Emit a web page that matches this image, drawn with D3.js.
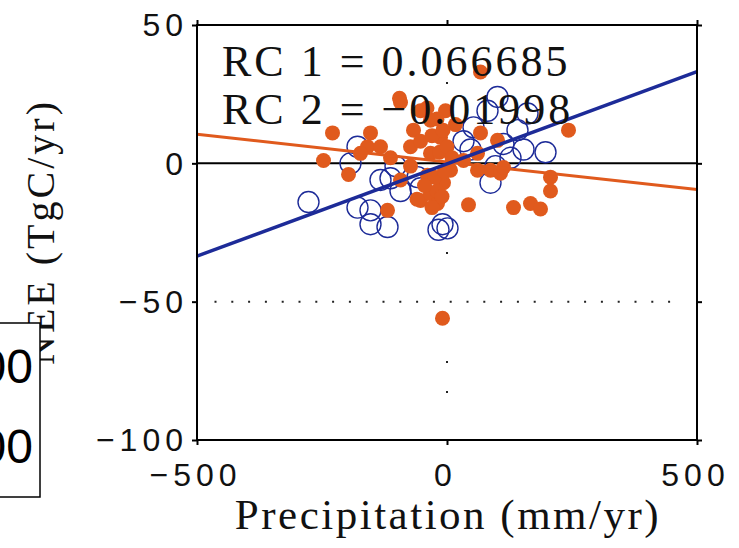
<!DOCTYPE html>
<html>
<head>
<meta charset="utf-8">
<script src="https://cdn.jsdelivr.net/npm/d3@7"></script>
<style>
  html, body { margin: 0; padding: 0; background: #fff; }
  svg { display: block; }
</style>
</head>
<body>
<svg id="chart" width="739" height="548"></svg>
<script>
// Precipitation anomaly (mm/yr) vs NEE anomaly (TgC/yr), two series with linear fits
const series1Precip = [-277, -179, 197, 101, 81, 53, 141, 113, 161, -179, -153, -153, -119, -133, -113,
                       -9, -17, 1, 87, -59, -53, 33, 127, 153, -93, -103, 47, -193, 97];
const series1NEE    = [-14, 6, 4, 24, 19, 13, 12, 7, 18, -16, -17, -22, -23, -6, -5.4,
                       -22, -24, -23.5, -7, -5, -9, 8, 2, 5, -10, -1, 5, 0, -1];

const series2Precip = [67, -229, -247, -197, -119, -9, 43, 133, 167, 187, 207, 207, 243, -95, -153,
                       -159, -173, -133, -113, -93, -73, -67, -53, -33, -53, -13, -33, -53, -33, -7,
                       7, -19, 87, 61, 107, 67, 101, 61, -3, 17, 33, 113, -73, -93, -39,
                       -20, -10, -25, -5, -15, -30, -20, -40, -8, 0, 10, -45, -60, -30];
const series2NEE    = [33, 11, 1, -4, -17, -56, -15, -16, -14.5, -16.5, -5, -10, 12, 23.5, 11,
                       6, 3.6, 6, 2, 22, 6, 12, 19, 15.6, 8, 9.4, 3.6, -13.4, -11, -7,
                       -2.5, -14.5, -2.5, -2.5, -3.6, 11, 8.3, 3.6, 19, 14, 1, -1.5, -1, -6, -4.3,
                       -10, -12, -5, -3, 4, 10, 16, 20, 12, 6, 2, -8, -13, -16];

// Regression coefficients (slopes) and intercepts of the fitted lines
const rcLabels = ["RC 1 = 0.066685", "RC 2 = \u22120.01998"];
const slopes = [0.066685, -0.01998];
const intercepts = [-0.2, 0.5];

const xTicks = [-500, 0, 500];
const yTicks = [50, 0, -50, -100];
const boxLabels = ["00", "00"];

const blue = "#1d2b98";
const orange = "#e05a1d";

const svg = d3.select("#chart");
const x = d3.scaleLinear().domain([-500, 500]).range([197, 697]);
const y = d3.scaleLinear().domain([-100, 50]).range([440, 25]);

// dotted reference lines at NEE = -50 and precipitation = 0
svg.append("line")
  .attr("x1", x(-465)).attr("x2", x(470))
  .attr("y1", y(-50)).attr("y2", y(-50))
  .attr("stroke", "#222").attr("stroke-width", 2)
  .attr("stroke-dasharray", "2,14.8");
svg.append("line")
  .attr("x1", x(0)).attr("x2", x(0))
  .attr("y1", y(50)).attr("y2", y(-100))
  .attr("stroke", "#222").attr("stroke-width", 2)
  .attr("stroke-dasharray", "0,57,2,168,2,107,2,28,2,200");

// zero line
svg.append("line")
  .attr("x1", x(-500)).attr("x2", x(500))
  .attr("y1", y(0)).attr("y2", y(0))
  .attr("stroke", "#000").attr("stroke-width", 2);

// series 1: open circles
svg.append("g").selectAll("circle")
  .data(d3.zip(series1Precip, series1NEE))
  .join("circle")
  .attr("cx", d => x(d[0])).attr("cy", d => y(d[1]))
  .attr("r", 10.5)
  .attr("fill", "none").attr("stroke", blue).attr("stroke-width", 1.4);

// series 2: filled dots
svg.append("g").selectAll("circle")
  .data(d3.zip(series2Precip, series2NEE))
  .join("circle")
  .attr("cx", d => x(d[0])).attr("cy", d => y(d[1]))
  .attr("r", 7.5)
  .attr("fill", orange);

// fitted lines
const fitColors = [blue, orange];
const fitWidths = [3.4, 3];
[1, 0].forEach(i => {
  const line = d3.line().x(d => x(d)).y(d => y(slopes[i] * d + intercepts[i]));
  svg.append("path")
    .attr("d", line(x.domain()))
    .attr("fill", "none")
    .attr("stroke", fitColors[i])
    .attr("stroke-width", fitWidths[i]);
});

// frame and axes
svg.append("rect")
  .attr("x", x(-500)).attr("y", y(50))
  .attr("width", x(500) - x(-500)).attr("height", y(-100) - y(50))
  .attr("fill", "none").attr("stroke", "#000").attr("stroke-width", 2);

const tickFont = "'Liberation Sans', Arial, sans-serif";

const axL = svg.append("g").attr("transform", `translate(${x(-500)},0)`)
  .call(d3.axisLeft(y).tickValues(yTicks).tickSize(5).tickSizeOuter(0).tickPadding(2));
axL.select(".domain").remove();
axL.selectAll("line").attr("stroke-width", 2);
axL.selectAll("text")
  .attr("font-family", tickFont).attr("font-size", 32)
  .style("letter-spacing", "5px")
  .attr("dx", -2).attr("dy", "0.34em").attr("fill", "#111");

const axB = svg.append("g").attr("transform", `translate(0,${y(-100)})`)
  .call(d3.axisBottom(x).tickValues(xTicks).tickSize(5).tickSizeOuter(0).tickPadding(18));
axB.select(".domain").remove();
axB.selectAll("line").attr("stroke-width", 2);
axB.selectAll("text")
  .attr("font-family", tickFont).attr("font-size", 32)
  .style("letter-spacing", "5px")
  .attr("dx", -2).attr("fill", "#111");

const axR = svg.append("g").attr("transform", `translate(${x(500)},0)`)
  .call(d3.axisRight(y).tickValues(yTicks).tickSize(5).tickSizeOuter(0).tickFormat(""));
axR.select(".domain").remove();
axR.selectAll("line").attr("stroke-width", 2);

const axT = svg.append("g").attr("transform", `translate(0,${y(50)})`)
  .call(d3.axisTop(x).tickValues(xTicks).tickSize(5).tickSizeOuter(0).tickFormat(""));
axT.select(".domain").remove();
axT.selectAll("line").attr("stroke-width", 2);

// coefficient annotations
const serif = "'Liberation Serif', 'Times New Roman', serif";
svg.append("g").selectAll("text")
  .data(rcLabels)
  .join("text")
  .attr("x", 222)
  .attr("y", (d, i) => 76 + i * 48)
  .attr("font-family", serif).attr("font-size", 44)
  .style("letter-spacing", "3px")
  .attr("fill", "#111")
  .text(d => d);

// axis titles
svg.append("text")
  .attr("x", 448).attr("y", 529)
  .attr("text-anchor", "middle")
  .attr("font-family", serif).attr("font-size", 43)
  .style("letter-spacing", "2.5px")
  .attr("fill", "#111")
  .text("Precipitation (mm/yr)");

svg.append("text")
  .attr("transform", "translate(54,232) rotate(-90)")
  .attr("text-anchor", "middle")
  .attr("font-family", serif).attr("font-size", 40)
  .style("letter-spacing", "3px")
  .attr("fill", "#111")
  .text("NEE (TgC/yr)");

// inset box at lower left
const box = svg.append("g");
box.append("rect")
  .attr("x", -2).attr("y", 323).attr("width", 42).attr("height", 174)
  .attr("fill", "#fff").attr("stroke", "#000").attr("stroke-width", 1.5);
box.selectAll("text.bl")
  .data(boxLabels)
  .join("text")
  .attr("class", "bl")
  .attr("x", 33)
  .attr("y", (d, i) => 383 + i * 80)
  .attr("text-anchor", "end")
  .attr("font-family", tickFont).attr("font-size", 48)
  .attr("fill", "#000")
  .text(d => d);
</script>
</body>
</html>
